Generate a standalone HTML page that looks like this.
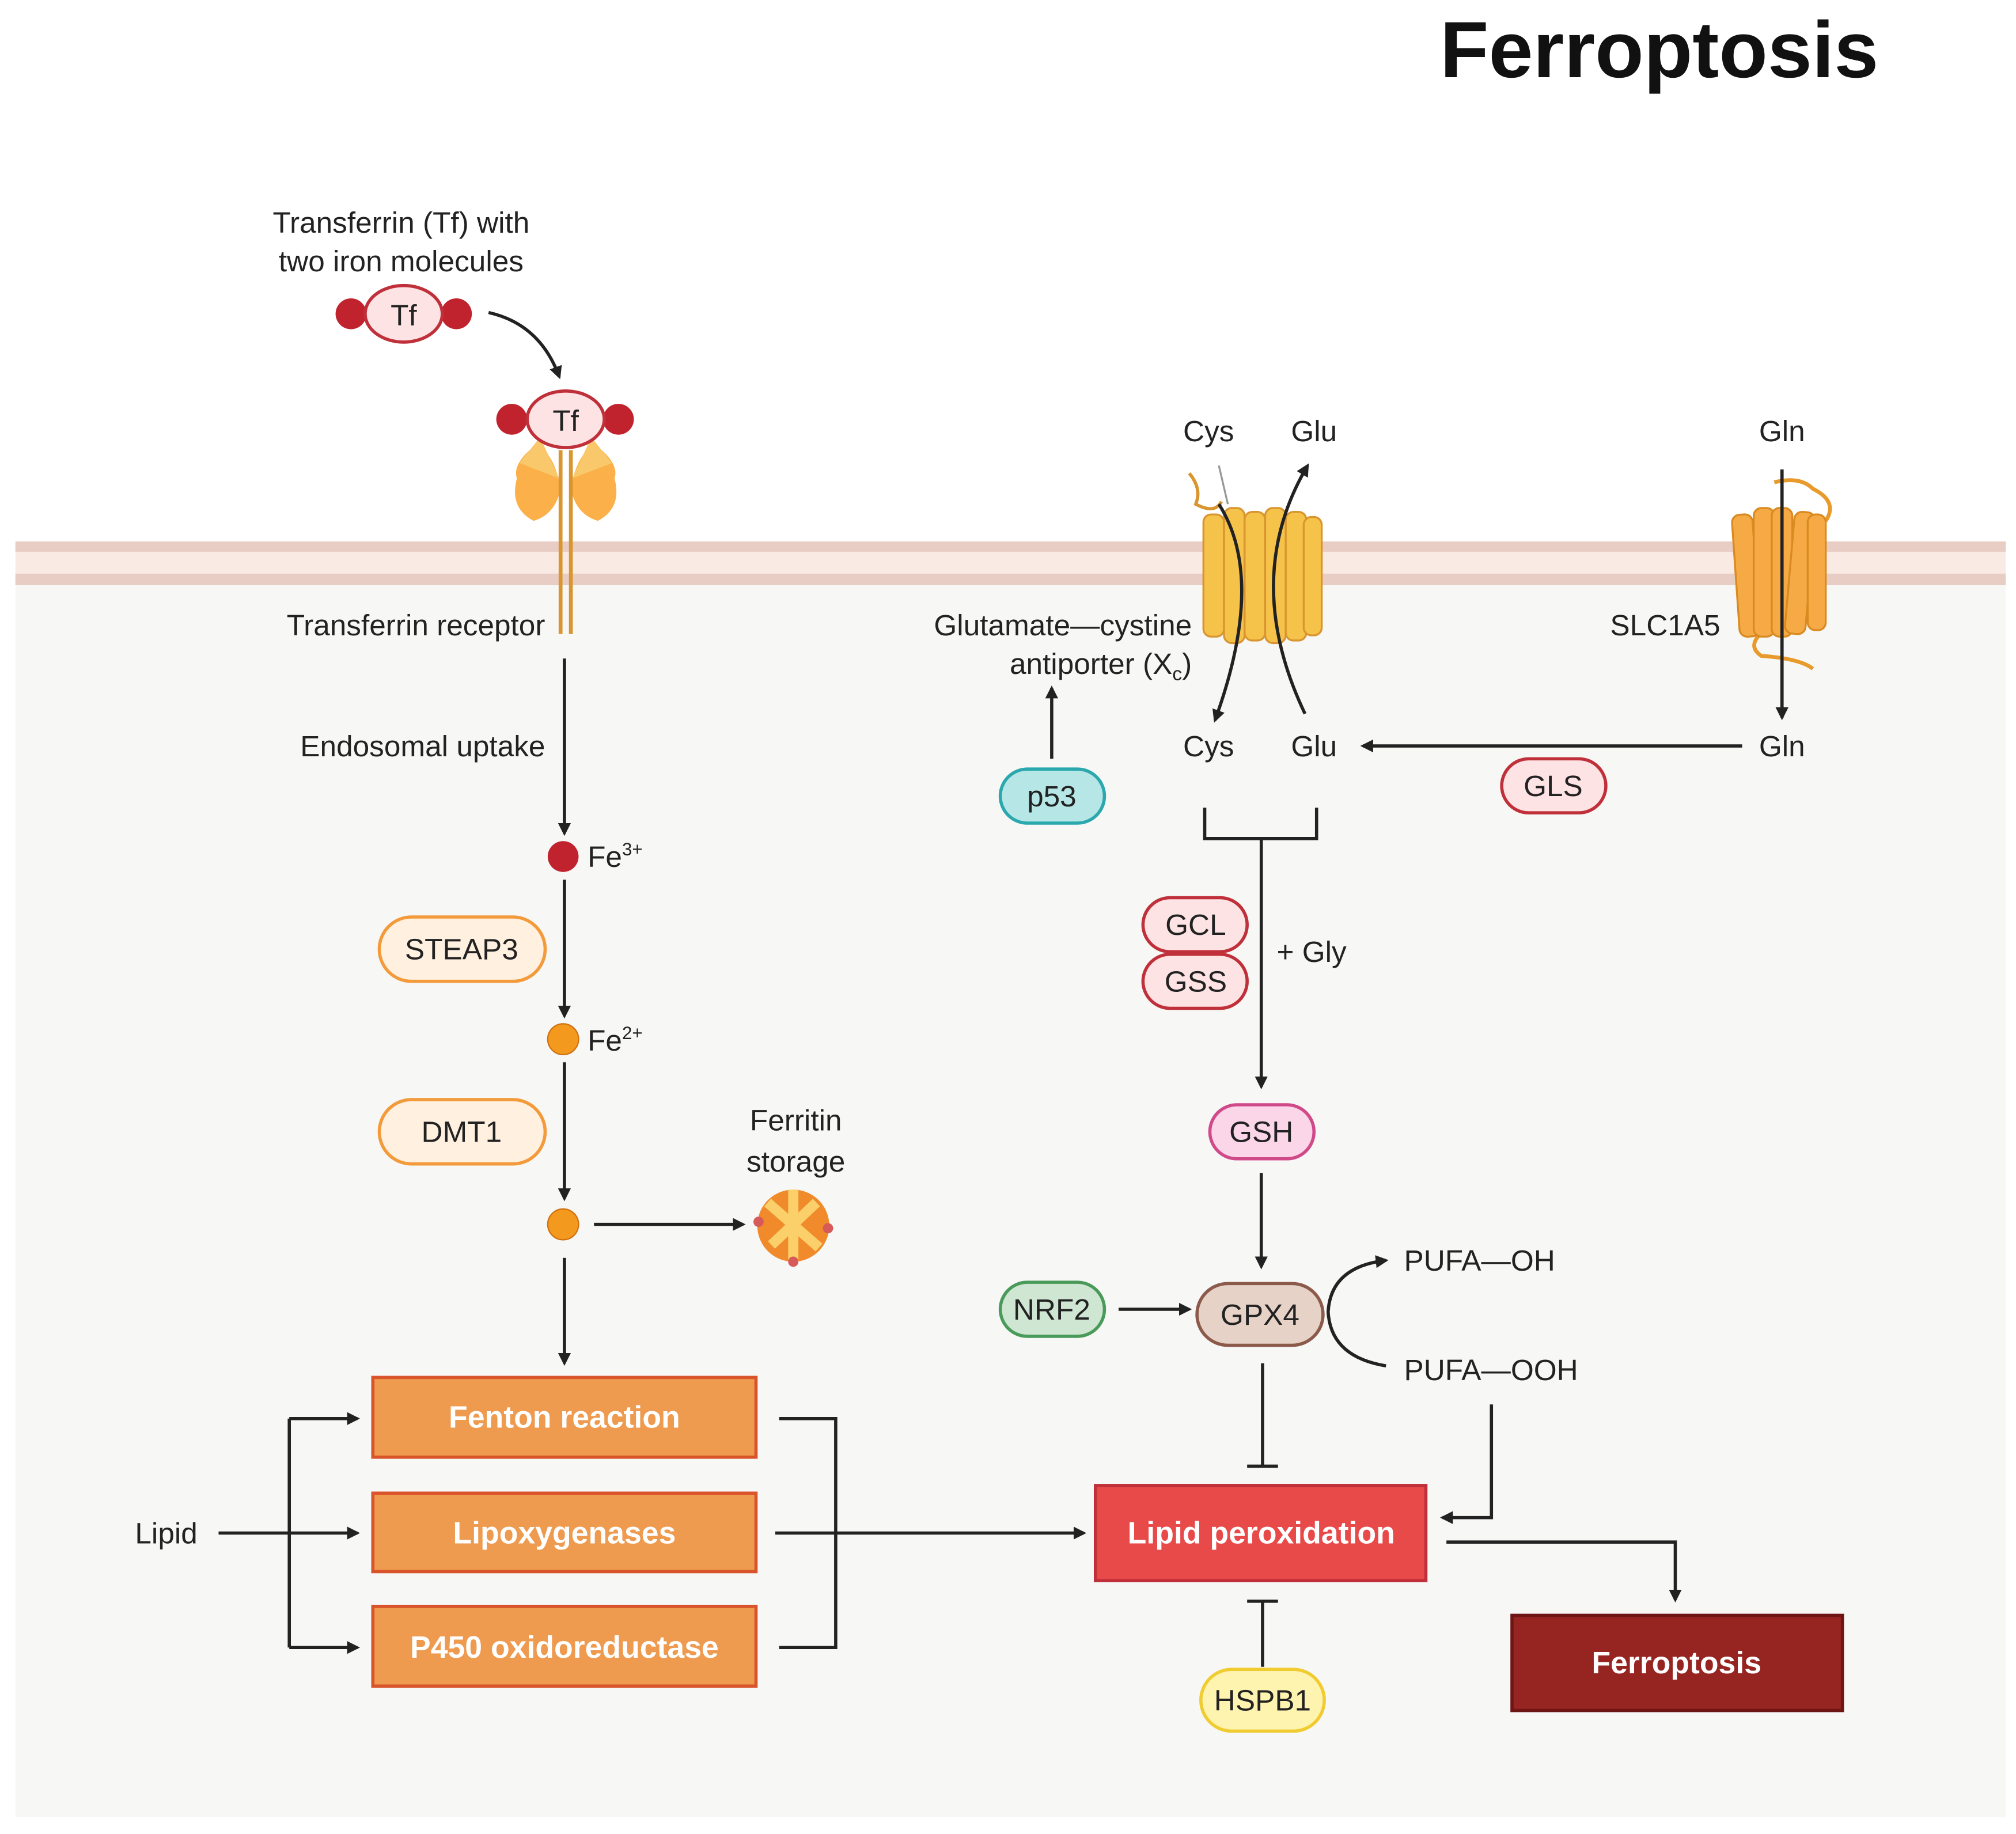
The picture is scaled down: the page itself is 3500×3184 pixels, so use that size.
<!DOCTYPE html>
<html><head><meta charset="utf-8"><style>html,body{margin:0;padding:0;background:#fff}svg{display:block}text{font-family:"Liberation Sans",sans-serif}</style></head><body>
<svg width="3500" height="3184" viewBox="0 0 1568 1426" preserveAspectRatio="none" xmlns="http://www.w3.org/2000/svg" fill="#222">
<defs><marker id="a" markerWidth="10" markerHeight="10" refX="8" refY="5" orient="auto" markerUnits="userSpaceOnUse"><path d="M0,0 L10,5 L0,10 z" fill="#222"/></marker></defs>
<rect width="1568" height="1426" fill="#fff"/>
<rect x="12" y="421" width="1548" height="992" fill="#f7f7f6"/>
<rect x="12" y="421" width="1548" height="34" fill="#faeae4"/>
<rect x="12" y="421" width="1548" height="8" fill="#e8cdc4"/>
<rect x="12" y="446" width="1548" height="9" fill="#e8cdc4"/>
<text x="1120" y="60" font-size="62" font-weight="bold" fill="#111">Ferroptosis</text>
<g font-size="23" text-anchor="middle">
<text x="312" y="181">Transferrin (Tf) with</text><text x="312" y="211">two iron molecules</text>
<text x="619" y="879">Ferritin</text><text x="619" y="911">storage</text>
</g>
<circle cx="273" cy="244" r="12" fill="#c0232e"/><circle cx="355" cy="244" r="12" fill="#c0232e"/>
<ellipse cx="314" cy="244" rx="30" ry="22" fill="#fde3e3" stroke="#c0303a" stroke-width="2.5"/>
<text x="314" y="253" font-size="23" text-anchor="middle">Tf</text>
<path d="M380,243 Q420,252 435,293" fill="none" stroke="#222" stroke-width="2.5" marker-end="url(#a)"/>
<path d="M418,345 Q398,360 402,372 Q396,395 415,405 Q432,400 436,380 Q432,355 418,345z" fill="#fbb04a"/>
<path d="M462,345 Q482,360 478,372 Q484,395 465,405 Q448,400 444,380 Q448,355 462,345z" fill="#fbb04a"/>
<path d="M420,340 L404,360 L435,372z M460,340 L476,360 L445,372z" fill="#f9c86a"/>
<line x1="436" y1="350" x2="436" y2="493" stroke="#d9952f" stroke-width="3"/><line x1="444" y1="350" x2="444" y2="493" stroke="#d9952f" stroke-width="3"/>
<circle cx="398" cy="326" r="12" fill="#c0232e"/><circle cx="481" cy="326" r="12" fill="#c0232e"/>
<ellipse cx="440" cy="326" rx="30" ry="22" fill="#fde3e3" stroke="#c0303a" stroke-width="2.5"/>
<text x="440" y="335" font-size="23" text-anchor="middle">Tf</text>
<g font-size="23" text-anchor="end">
<text x="424" y="494">Transferrin receptor</text><text x="424" y="588">Endosomal uptake</text>
<text x="927" y="494">Glutamate—cystine</text><text x="927" y="524">antiporter (X<tspan font-size="15" dy="5">c</tspan><tspan dy="-5">)</tspan></text>
<text x="1338" y="494">SLC1A5</text>
</g>
<g stroke="#222" stroke-width="2.5" fill="none" marker-end="url(#a)">
<line x1="439" y1="512" x2="439" y2="648"/><line x1="439" y1="684" x2="439" y2="790"/><line x1="439" y1="826" x2="439" y2="932"/>
<line x1="462" y1="952" x2="578" y2="952"/><line x1="439" y1="978" x2="439" y2="1060"/>
<line x1="170" y1="1192" x2="278" y2="1192"/>
<line x1="225" y1="1103" x2="278" y2="1103"/><line x1="225" y1="1281" x2="278" y2="1281"/>
<line x1="603" y1="1192" x2="843" y2="1192"/>
<polyline points="1125,1199 1303,1199 1303,1244"/>
<polyline points="1160,1092 1160,1180 1122,1180"/>
<line x1="870" y1="1018" x2="925" y2="1018"/>
<path d="M1078,1062 Q1035,1055 1033,1020 Q1035,985 1078,980"/>
<line x1="981" y1="912" x2="981" y2="985"/><line x1="981" y1="652" x2="981" y2="845"/>
<line x1="1355" y1="580" x2="1060" y2="580"/><line x1="1386" y1="365" x2="1386" y2="558"/>
<line x1="818" y1="590" x2="818" y2="535"/>
</g>
<line x1="225" y1="1103" x2="225" y2="1281" stroke="#222" stroke-width="2.5"/>
<polyline points="606,1103 650,1103 650,1281 606,1281" fill="none" stroke="#222" stroke-width="2.5"/>
<polyline points="937,628 937,652 1024,652 1024,628" fill="none" stroke="#222" stroke-width="2.5"/>
<g stroke="#222" stroke-width="2.5"><line x1="982" y1="1060" x2="982" y2="1140"/><line x1="970" y1="1140" x2="994" y2="1140"/>
<line x1="982" y1="1296" x2="982" y2="1245"/><line x1="970" y1="1245" x2="994" y2="1245"/></g>
<circle cx="438" cy="666" r="12" fill="#c0232e"/><text x="457" y="674" font-size="23">Fe<tspan font-size="14" dy="-9">3+</tspan></text>
<circle cx="438" cy="808" r="12" fill="#f39a1e" stroke="#d07010"/><text x="457" y="817" font-size="23">Fe<tspan font-size="14" dy="-9">2+</tspan></text>
<circle cx="438" cy="952" r="12" fill="#f39a1e" stroke="#d07010"/>
<circle cx="617" cy="953" r="28" fill="#f08a2a"/><path d="M597,935 L637,970 M600,968 L635,935 M617,925 L617,980" stroke="#fbcf6a" stroke-width="8"/>
<circle cx="590" cy="950" r="4" fill="#d65a5a"/><circle cx="644" cy="955" r="4" fill="#d65a5a"/><circle cx="617" cy="981" r="4" fill="#d65a5a"/>
<g stroke-width="2.5" font-size="23" text-anchor="middle">
<rect x="295" y="713" width="129" height="50" rx="25" fill="#fff0e0" stroke="#f39a3a"/><text x="359" y="746" fill="#222" stroke="none">STEAP3</text>
<rect x="295" y="855" width="129" height="50" rx="25" fill="#fff0e0" stroke="#f39a3a"/><text x="359" y="888" fill="#222" stroke="none">DMT1</text>
<rect x="778" y="598" width="81" height="42" rx="21" fill="#b7e6e6" stroke="#2aa8ad"/><text x="818" y="627" fill="#222" stroke="none">p53</text>
<rect x="1168" y="590" width="81" height="42" rx="21" fill="#fde3e3" stroke="#c0303a"/><text x="1208" y="619" fill="#222" stroke="none">GLS</text>
<rect x="889" y="698" width="81" height="42" rx="21" fill="#fde3e3" stroke="#c0303a"/><text x="930" y="727" fill="#222" stroke="none">GCL</text>
<rect x="889" y="742" width="81" height="42" rx="21" fill="#fde3e3" stroke="#c0303a"/><text x="930" y="771" fill="#222" stroke="none">GSS</text>
<rect x="941" y="859" width="81" height="42" rx="21" fill="#fbd5e8" stroke="#d04a8a"/><text x="981" y="888" fill="#222" stroke="none">GSH</text>
<rect x="778" y="997" width="81" height="42" rx="21" fill="#cfe6d3" stroke="#4a9a5a"/><text x="818" y="1026" fill="#222" stroke="none">NRF2</text>
<rect x="931" y="998" width="98" height="48" rx="24" fill="#e6d2c6" stroke="#8b5a4a"/><text x="980" y="1030" fill="#222" stroke="none">GPX4</text>
<rect x="934" y="1298" width="96" height="48" rx="24" fill="#fff3b0" stroke="#f0cc30"/><text x="982" y="1330" fill="#222" stroke="none">HSPB1</text>
</g>
<g font-size="23"><text x="993" y="748">+ Gly</text><text x="1092" y="988">PUFA—OH</text><text x="1092" y="1073">PUFA—OOH</text><text x="105" y="1200">Lipid</text>
<text x="940" y="343" text-anchor="middle">Cys</text><text x="1022" y="343" text-anchor="middle">Glu</text>
<text x="940" y="588" text-anchor="middle">Cys</text><text x="1022" y="588" text-anchor="middle">Glu</text>
<text x="1386" y="343" text-anchor="middle">Gln</text><text x="1386" y="588" text-anchor="middle">Gln</text></g>
<path d="M925,368 Q935,380 930,392 Q945,400 950,390" fill="none" stroke="#d9952f" stroke-width="2.5"/>
<g fill="#f5c24a" stroke="#d9952f" stroke-width="1.5">
<rect x="936" y="400" width="16" height="95" rx="6"/><rect x="952" y="395" width="16" height="105" rx="6"/><rect x="968" y="398" width="16" height="100" rx="6"/><rect x="984" y="395" width="16" height="105" rx="6"/><rect x="1000" y="398" width="16" height="100" rx="6"/><rect x="1014" y="402" width="14" height="92" rx="6"/>
</g>
<path d="M948,392 Q985,450 945,560" fill="none" stroke="#222" stroke-width="2.5" marker-end="url(#a)"/>
<path d="M1015,555 Q965,450 1017,362" fill="none" stroke="#222" stroke-width="2.5" marker-end="url(#a)"/>
<line x1="948" y1="362" x2="955" y2="392" stroke="#999" stroke-width="1.5"/>
<path d="M1380,375 Q1400,370 1410,380 Q1430,390 1420,405" fill="none" stroke="#e89a2a" stroke-width="3"/>
<path d="M1380,485 Q1355,500 1370,510 Q1400,512 1410,520" fill="none" stroke="#e89a2a" stroke-width="3"/>
<g fill="#f5aa45" stroke="#d98a20" stroke-width="1.5">
<rect x="1350" y="400" width="16" height="95" rx="6" transform="rotate(-4 1358 447)"/><rect x="1364" y="395" width="16" height="100" rx="6"/><rect x="1378" y="395" width="16" height="100" rx="6"/><rect x="1392" y="398" width="16" height="95" rx="6" transform="rotate(5 1400 445)"/><rect x="1406" y="400" width="14" height="90" rx="6"/>
</g>
<line x1="1386" y1="365" x2="1386" y2="558" stroke="#222" stroke-width="2.5"/>
<g stroke-width="2.5" font-size="24" font-weight="bold" text-anchor="middle">
<rect x="290" y="1071" width="298" height="62" fill="#ee9a4f" stroke="#d9542b"/><text x="439" y="1110" fill="#ffffff" stroke="none">Fenton reaction</text>
<rect x="290" y="1161" width="298" height="61" fill="#ee9a4f" stroke="#d9542b"/><text x="439" y="1200" fill="#ffffff" stroke="none">Lipoxygenases</text>
<rect x="290" y="1249" width="298" height="62" fill="#ee9a4f" stroke="#d9542b"/><text x="439" y="1289" fill="#ffffff" stroke="none">P450 oxidoreductase</text>
<rect x="852" y="1155" width="257" height="74" fill="#e84a4a" stroke="#c0303a"/><text x="981" y="1200" fill="#ffffff" stroke="none">Lipid peroxidation</text>
<rect x="1176" y="1256" width="257" height="74" fill="#962421" stroke="#6e1515"/><text x="1304" y="1301" fill="#ffffff" stroke="none">Ferroptosis</text>
</g>
</svg>
</body></html>
